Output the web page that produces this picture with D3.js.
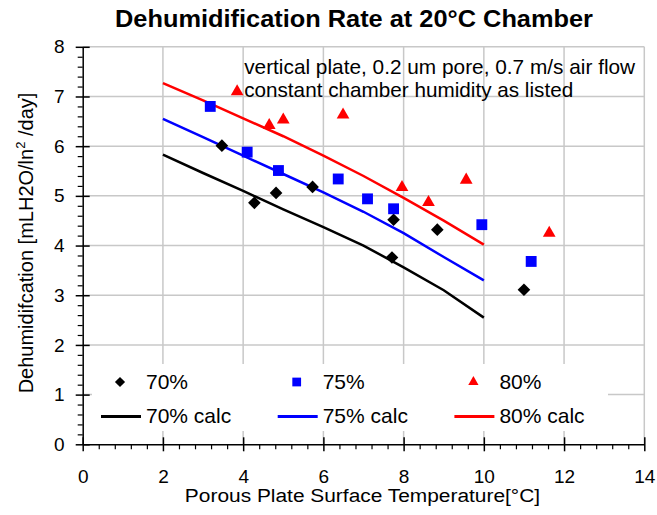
<!DOCTYPE html>
<html>
<head>
<meta charset="utf-8">
<script src="https://cdn.jsdelivr.net/npm/d3@7"></script>
<style>
  body { margin: 0; background: #fff; }
  svg { display: block; font-family: "Liberation Sans", Arial, sans-serif; }
</style>
</head>
<body>
<svg id="chart" width="657" height="515"></svg>
<script>
// ---- data ----
const seriesNames = ["70%", "75%", "80%"];
const calcNames = ["70% calc", "75% calc", "80% calc"];
const colors = ["#000000", "#0000ff", "#ff0000"];

const meas70 = [[3.47,6.01],[4.28,4.86],[4.82,5.06],[5.73,5.18],[7.75,4.52],[7.71,3.76],[8.84,4.32],[11.0,3.11]];
const meas75 = [[3.18,6.80],[4.10,5.88],[4.88,5.51],[6.37,5.34],[7.10,4.94],[7.75,4.74],[9.95,4.42],[11.18,3.68]];
const meas80 = [[3.85,7.10],[4.65,6.42],[5.00,6.53],[6.49,6.63],[7.96,5.17],[8.62,4.87],[9.56,5.32],[11.63,4.25]];

const calcX = [2, 3, 4, 5, 6, 7, 8, 9, 10];
const calc70 = [5.83, 5.46, 5.10, 4.73, 4.37, 4.00, 3.56, 3.10, 2.55];
const calc75 = [6.55, 6.18, 5.81, 5.44, 5.07, 4.68, 4.25, 3.77, 3.30];
const calc80 = [7.27, 6.92, 6.56, 6.20, 5.81, 5.40, 4.96, 4.50, 4.02];

const xTicks = [0, 2, 4, 6, 8, 10, 12, 14];
const yTicks = [0, 1, 2, 3, 4, 5, 6, 7, 8];

const titleText = "Dehumidification Rate at 20°C Chamber";
const xLabel = "Porous Plate Surface Temperature[°C]";
const noteLines = ["vertical plate, 0.2 um pore, 0.7 m/s air flow", "constant chamber humidity as listed"];

// ---- layout ----
const svg = d3.select("#chart");
const pLeft = 82.7, pRight = 644.3, pTop = 46.8, pBottom = 444.3;
const x = d3.scaleLinear().domain([0, 14]).range([pLeft, pRight]);
const y = d3.scaleLinear().domain([0, 8]).range([pBottom, pTop]);
const grid = "#c8c8c8";

// gridlines
svg.append("g").selectAll("line").data(xTicks.slice(1)).join("line")
  .attr("x1", d => x(d)).attr("x2", d => x(d)).attr("y1", y(0)).attr("y2", y(8))
  .attr("stroke", grid).attr("stroke-width", 1.5);
svg.append("g").selectAll("line").data(yTicks.slice(1)).join("line")
  .attr("x1", x(0)).attr("x2", x(14)).attr("y1", d => y(d)).attr("y2", d => y(d))
  .attr("stroke", grid).attr("stroke-width", 1.5);

// annotation
const noteLen = [391, 329];
svg.append("g").selectAll("text").data(noteLines).join("text")
  .attr("x", x(4) + 1).attr("y", (d, i) => 74 + i * 23)
  .attr("font-size", 21).attr("fill", "#000")
  .attr("textLength", (d, i) => noteLen[i]).attr("lengthAdjust", "spacingAndGlyphs")
  .text(d => d);

// calc lines
const calcs = [calc70, calc75, calc80];
const line = d3.line().x(d => x(d[0])).y(d => y(d[1]));
calcs.forEach((c, i) => {
  svg.append("path").datum(calcX.map((xv, j) => [xv, c[j]]))
    .attr("d", line).attr("fill", "none").attr("stroke", colors[i]).attr("stroke-width", 2.5);
});

// markers
const meas = [meas70, meas75, meas80];
function drawSym(g, i, px, py, scale) {
  const s = scale || 1;
  if (i === 0) {
    g.append("path").attr("d", d3.symbol(d3.symbolSquare, 80 * s)())
      .attr("transform", `translate(${px},${py}) rotate(45)`).attr("fill", colors[0]);
  } else if (i === 1) {
    g.append("path").attr("d", d3.symbol(d3.symbolSquare, 118 * s)())
      .attr("transform", `translate(${px},${py})`).attr("fill", colors[1]);
  } else {
    g.append("path").attr("d", d3.symbol(d3.symbolTriangle, 70 * s)())
      .attr("transform", `translate(${px},${py})`).attr("fill", colors[2]);
  }
}
const mg = svg.append("g");
meas.forEach((arr, i) => arr.forEach(d => drawSym(mg, i, x(d[0]), y(d[1]))));

// legend
svg.append("rect").attr("x", 92).attr("y", 364).attr("width", 516).attr("height", 67).attr("fill", "#fff");
const legX = [146, 322.7, 499.4];
const lg = svg.append("g").attr("font-size", 21);
seriesNames.forEach((n, i) => {
  drawSym(lg, i, legX[i] - 26, 382, 0.65);
  lg.append("text").attr("x", legX[i]).attr("y", 389).text(n);
});
calcNames.forEach((n, i) => {
  lg.append("line").attr("x1", legX[i] - 45).attr("x2", legX[i] - 5)
    .attr("y1", 416.5).attr("y2", 416.5).attr("stroke", colors[i]).attr("stroke-width", 3);
  lg.append("text").attr("x", legX[i]).attr("y", 423).text(n);
});

// axes
const xMinor = d3.range(0, 14.0001, 0.4).filter(v => Math.abs(v / 2 - Math.round(v / 2)) > 1e-6);
const yMinor = d3.range(0, 8.0001, 0.2).filter(v => Math.abs(v - Math.round(v)) > 1e-6);

svg.append("g").attr("transform", `translate(0,${pBottom})`)
  .call(d3.axisBottom(x).tickValues(xMinor).tickFormat("").tickSize(5).tickSizeOuter(0))
  .call(g => g.select(".domain").remove())
  .selectAll("line").attr("stroke-width", 1.2);
const xa = svg.append("g").attr("transform", `translate(0,${pBottom})`)
  .call(d3.axisBottom(x).tickValues(xTicks).tickFormat(d3.format("d")).tickSize(7).tickSizeOuter(0).tickPadding(18));
xa.select(".domain").attr("stroke-width", 1.5);
xa.selectAll(".tick line").attr("y1", -7).attr("stroke-width", 1.5);
xa.selectAll(".tick text").attr("font-size", 19).attr("font-family", "Liberation Sans, Arial, sans-serif").attr("fill", "#000");

svg.append("g").attr("transform", `translate(${pLeft},0)`)
  .call(d3.axisLeft(y).tickValues(yMinor).tickFormat("").tickSize(5).tickSizeOuter(0))
  .call(g => g.select(".domain").remove())
  .selectAll("line").attr("stroke-width", 1.2);
const ya = svg.append("g").attr("transform", `translate(${pLeft},0)`)
  .call(d3.axisLeft(y).tickValues(yTicks).tickFormat(d3.format("d")).tickSize(7).tickSizeOuter(0).tickPadding(11));
ya.select(".domain").attr("stroke-width", 1.5);
ya.selectAll(".tick line").attr("x1", 7).attr("stroke-width", 1.5);
ya.selectAll(".tick text").attr("font-size", 19).attr("font-family", "Liberation Sans, Arial, sans-serif").attr("fill", "#000");

// titles
svg.append("text").attr("x", 354).attr("y", 27).attr("text-anchor", "middle")
  .attr("font-size", 23).attr("font-weight", "bold")
  .attr("textLength", 478).attr("lengthAdjust", "spacingAndGlyphs").text(titleText);
svg.append("text").attr("transform", "translate(362.5,502) scale(1.1,1)")
  .attr("text-anchor", "middle").attr("font-size", 19).text(xLabel);
const yl = svg.append("text").attr("transform", "translate(33,243) rotate(-90)")
  .attr("text-anchor", "middle").attr("font-size", 20);
yl.append("tspan").text("Dehumidifcation [mLH2O/ln");
yl.append("tspan").attr("font-size", 13).attr("dy", -8).text("2");
yl.append("tspan").attr("dy", 8).text(" /day]");
</script>
</body>
</html>
